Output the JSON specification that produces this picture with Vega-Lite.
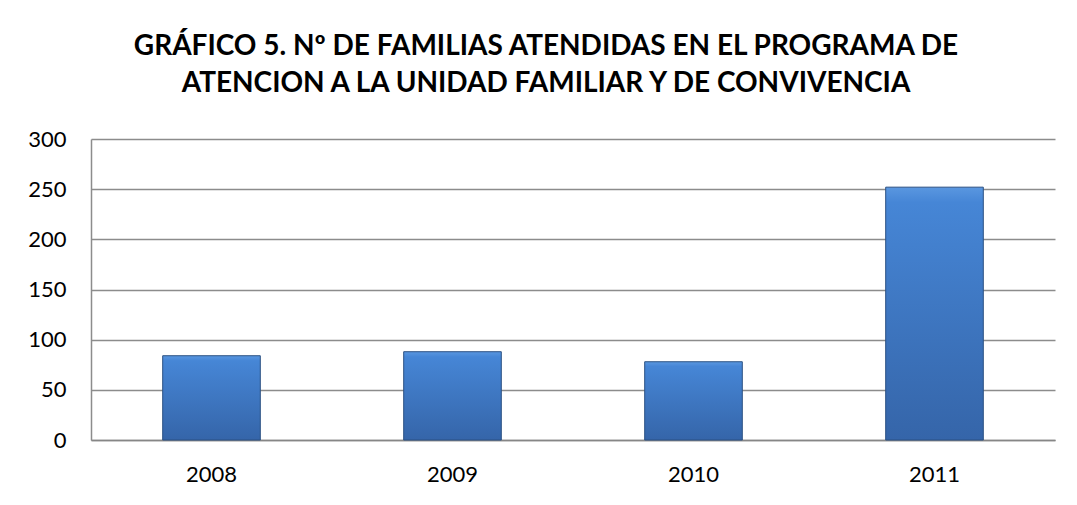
{
  "$schema": "https://vega.github.io/schema/vega-lite/v6.json",
  "autosize": {"type": "none"},
  "padding": {"left": 91, "top": 139, "right": 22, "bottom": 64},
  "width": 964,
  "height": 301,
  "background": "white",
  "title": {
    "text": ["GRÁFICO 5. Nº DE FAMILIAS ATENDIDAS EN EL PROGRAMA DE", "ATENCION A LA UNIDAD FAMILIAR Y DE CONVIVENCIA"],
    "font": "Lato",
    "fontSize": 28,
    "fontWeight": "bold",
    "color": "#000000",
    "anchor": "middle",
    "frame": "group",
    "dx": -27,
    "lineHeight": 37,
    "offset": 30
  },
  "data": {
    "values": [
      {"year": "2008", "familias": 84},
      {"year": "2009", "familias": 88},
      {"year": "2010", "familias": 78},
      {"year": "2011", "familias": 252}
    ]
  },
  "mark": {
    "type": "bar",
    "stroke": "#2b5183",
    "strokeWidth": 1,
    "color": {
      "gradient": "linear",
      "x1": 0, "y1": 0, "x2": 0, "y2": 1,
      "stops": [
        {"offset": 0, "color": "#5a97e0"},
        {"offset": 0.06, "color": "#4686d6"},
        {"offset": 1, "color": "#3565a9"}
      ]
    }
  },
  "encoding": {
    "x": {
      "field": "year",
      "type": "nominal",
      "title": null,
      "scale": {"paddingInner": 0.595, "paddingOuter": 0.2975},
      "axis": {
        "labelAngle": 0,
        "labelFont": "Lato",
        "labelFontSize": 22,
        "labelColor": "#000000",
        "labelPadding": 24,
        "ticks": false,
        "domainColor": "#868686",
        "domainWidth": 1.5
      }
    },
    "y": {
      "field": "familias",
      "type": "quantitative",
      "title": null,
      "scale": {"domain": [0, 300]},
      "axis": {
        "values": [0, 50, 100, 150, 200, 250, 300],
        "labelFont": "Lato",
        "labelFontSize": 22,
        "labelColor": "#000000",
        "labelPadding": 25,
        "ticks": false,
        "grid": true,
        "gridColor": "#8c8c8c",
        "gridWidth": 1.5,
        "domainColor": "#8c8c8c",
        "domainWidth": 1.5
      }
    }
  },
  "config": {
    "view": {"stroke": null}
  }
}
